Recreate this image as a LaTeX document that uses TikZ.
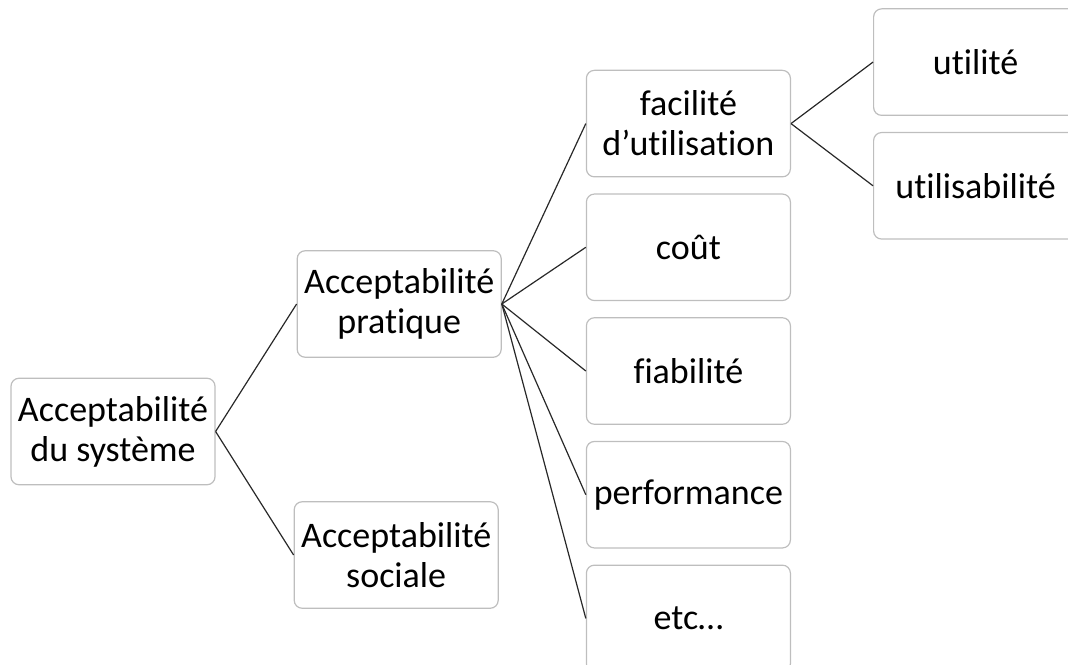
\documentclass[tikz,border=0pt]{standalone}
\usepackage{fontspec}
\setmainfont[Ligatures=CommonOff]{Carlito}
\usetikzlibrary{positioning}
\definecolor{boxgray}{RGB}{190,190,190}
\definecolor{linegray}{RGB}{40,40,40}

\begin{document}
\begin{tikzpicture}[%
    -,
    node distance=8pt,
    critere/.style={%
      rectangle,
      rounded corners=4pt,
      draw=boxgray,
      line width=0.6pt,
      minimum width=102pt,
      minimum height=53.25pt,
      inner sep=2pt,
      align=center,
      font=\fontsize{18}{20}\selectfont
    },
    lien/.style={%
      draw=linegray,
      line width=0.6pt
    }
  ]
    \useasboundingbox (-56.5pt,-116.25pt) rectangle (477.5pt,215.75pt);

    \node[critere] (sys)                                               {Acceptabilité\\du système};
    \node[critere] (prat) [right=40.5pt of sys,yshift=63.75pt]         {Acceptabilité\\pratique};
    \node[critere] (soc)  [right=39pt of sys,yshift=-61.75pt]          {Acceptabilité\\sociale};
    \node[critere] (fiab) [right=42pt of prat,yshift=-33.5pt]          {fiabilité};
    \node[critere] (cout) [above=of fiab]                              {coût};
    \node[critere] (fac)  [above=of cout]                              {facilité\\d’utilisation};
    \node[critere] (perf) [below=of fiab]                              {performance};
    \node[critere] (etc)  [below=of perf]                              {etc…};
    \node[critere] (util) [right=41pt of fac,yshift=30.75pt]           {utilité};
    \node[critere] (usab) [below=of util]                              {utilisabilité};

    \path (sys.east)  edge [lien] (prat.west)
          (sys.east)  edge [lien] (soc.west)
          (prat.east) edge [lien] (fac.west)
          (prat.east) edge [lien] (cout.west)
          (prat.east) edge [lien] (fiab.west)
          (prat.east) edge [lien] (perf.west)
          (prat.east) edge [lien] (etc.west)
          (fac.east)  edge [lien] (util.west)
          (fac.east)  edge [lien] (usab.west)
          ;
  \end{tikzpicture}
\end{document}
